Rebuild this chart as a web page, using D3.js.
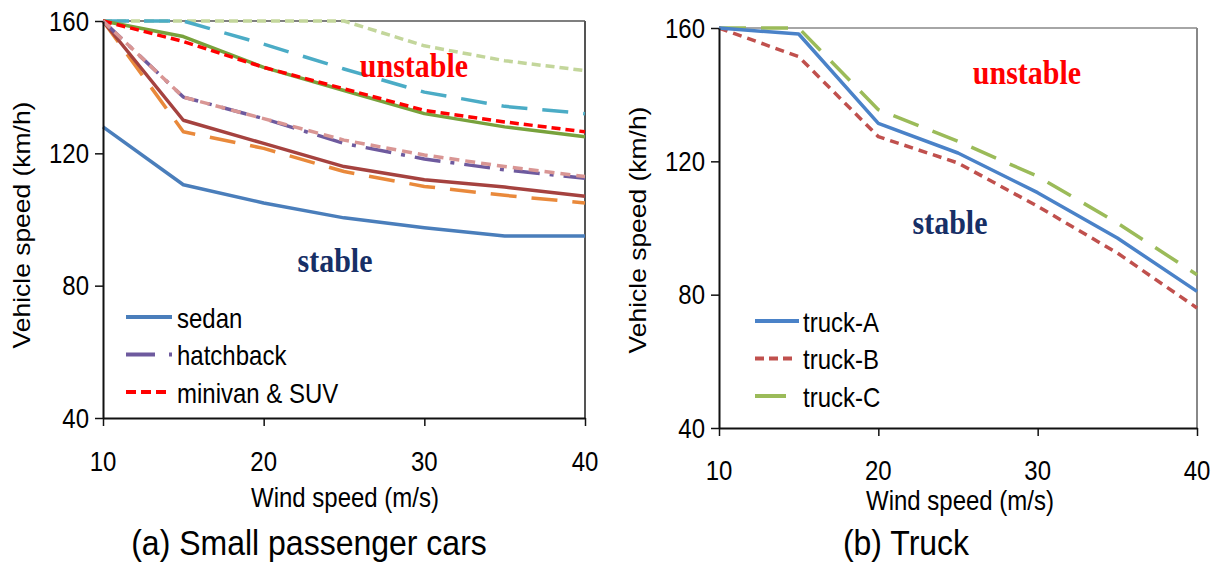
<!DOCTYPE html>
<html><head><meta charset="utf-8">
<script src="https://cdn.jsdelivr.net/npm/d3@7"></script>
<style>body{margin:0;background:#fff}svg{display:block}</style>
</head><body>
<svg id="c" width="1221" height="565"></svg>
<script>
// ---- data ----
const windSpeed = [10, 15, 20, 25, 30, 35, 40];
const yTicks = [40, 80, 120, 160];
const xTicks = [10, 20, 30, 40];
// (a) small passenger cars
const carSedan      = [128, 110.5, 105, 100.5, 97.5, 95, 95];
const carHatchback  = [160, 137, 130.5, 123, 118.3, 115, 112.5];
const carMinivanSUV = [160, 153.8, 146, 139.5, 133, 129.5, 126.5];
const carBrown      = [160, 130, 123, 116, 112, 109.8, 107];
const carOrange     = [160, 126.5, 121.5, 114.5, 110, 107.3, 105];
const carPink       = [160, 137, 130.5, 124, 119.5, 116, 113];
const carGreen      = [160, 155.3, 146, 139, 132, 128, 125];
const carTeal       = [160, 160, 153, 145.5, 138.5, 134.2, 132];
const carLightGreen = [160, 160, 160, 160, 152.5, 148, 145];
// (b) truck
const truckA = [160, 158.2, 131.4, 122.5, 110.6, 97, 81];
const truckB = [160, 151.4, 127.4, 119.5, 106.5, 92.5, 76];
const truckC = [160, 160, 135.5, 126, 115.5, 101.5, 86];

const svg = d3.select("#c");
const SANS = "'Liberation Sans', Arial, sans-serif";
const SERIF = "'Liberation Serif', 'Times New Roman', serif";
const SY = 1.15;

function txt(g, x, y, s, opt) {
  opt = opt || {};
  const sy = opt.sy || SY;
  const t = g.append("text")
    .attr("transform", `translate(${x},${y}) scale(1,${sy})` + (opt.rot ? " rotate(-90)" : ""))
    .attr("text-anchor", opt.anchor || "middle")
    .attr("dominant-baseline", "central")
    .attr("font-family", opt.family || SANS)
    .attr("font-size", opt.size || 24)
    .attr("font-weight", opt.weight || "normal")
    .attr("fill", opt.fill || "#000")
    .text(s);
  return t;
}

function panel(cfg) {
  const g = svg.append("g");
  const x = d3.scaleLinear().domain([10, 40]).range([cfg.x0, cfg.x1]);
  const y = d3.scaleLinear().domain([40, 160]).range([cfg.y0, cfg.y1]);
  // frame top/right
  g.append("line").attr("x1", cfg.x0).attr("x2", cfg.x1).attr("y1", cfg.y1).attr("y2", cfg.y1)
    .attr("stroke", cfg.frame).attr("stroke-width", 1.5);
  g.append("line").attr("x1", cfg.x1).attr("x2", cfg.x1).attr("y1", cfg.y1).attr("y2", cfg.y0)
    .attr("stroke", cfg.frame).attr("stroke-width", 2);

  const line = d3.line().x((d, i) => x(windSpeed[i])).y(d => y(d));
  cfg.series.forEach(s => {
    g.append("path").datum(s.data).attr("d", line)
      .attr("fill", "none").attr("stroke", s.color).attr("stroke-width", s.w || 3.5)
      .attr("stroke-dasharray", s.dash || null).attr("stroke-linejoin", "round");
  });

  // axes
  const ya = g.append("g").attr("transform", `translate(${cfg.x0},0)`)
    .call(d3.axisLeft(y).tickValues(yTicks).tickSize(8).tickSizeOuter(0).tickFormat(""));
  const xa = g.append("g").attr("transform", `translate(0,${cfg.y0})`)
    .call(d3.axisBottom(x).tickValues(xTicks).tickSize(8).tickSizeOuter(0).tickFormat(""));
  [ya, xa].forEach(a => {
    a.select(".domain").attr("stroke", "#111").attr("stroke-width", 2);
    a.selectAll(".tick line").attr("stroke", "#111").attr("stroke-width", 1.5);
  });
  yTicks.forEach(v => txt(g, cfg.x0 - 14, y(v), v, { anchor: "end" }));
  xTicks.forEach(v => txt(g, x(v), cfg.xLabY, v));

  txt(g, cfg.yTitleX, cfg.yTitleY, "Vehicle speed (km/h)", { rot: true, size: 23 });
  txt(g, cfg.xTitleX, cfg.xTitleY, "Wind speed (m/s)", { size: 24 });
  txt(g, cfg.capX, 543, cfg.caption, { size: 32, sy: 1.08 });

  txt(g, cfg.unX, cfg.unY, "unstable", { family: SERIF, weight: "bold", size: 30, fill: "#FF0000" });
  txt(g, cfg.stX, cfg.stY, "stable", { family: SERIF, weight: "bold", size: 30, fill: "#172F66" });

  cfg.legend.forEach((L, i) => {
    const ly = cfg.legY + i * 37.5;
    g.append("line").attr("x1", cfg.legX).attr("x2", cfg.legX + L.len).attr("y1", ly).attr("y2", ly)
      .attr("stroke", L.color).attr("stroke-width", 4).attr("stroke-dasharray", L.dash || null);
    txt(g, cfg.legTextX, ly + 1, L.label, { anchor: "start", size: 24 });
  });
}

panel({
  x0: 103, x1: 585, y0: 418, y1: 21, frame: "#555",
  xLabY: 461, yTitleX: 22, yTitleY: 225, xTitleX: 345, xTitleY: 497,
  caption: "(a) Small passenger cars", capX: 309,
  unX: 414, unY: 65, stX: 335, stY: 260,
  series: [
    { data: carLightGreen, color: "#C3D69B", dash: "9,5" },
    { data: carTeal, color: "#4BACC6", dash: "26,15" },
    { data: carGreen, color: "#78A23C" },
    { data: carMinivanSUV, color: "#FF0000", dash: "9,5" },
    { data: carOrange, color: "#E9893B", dash: "26,15" },
    { data: carBrown, color: "#A5423F" },
    { data: carHatchback, color: "#6E5A9E", dash: "26,10,4,10" },
    { data: carPink, color: "#D99694", dash: "10,6" },
    { data: carSedan, color: "#4A7EBB" }
  ],
  legX: 126, legTextX: 177, legY: 317,
  legend: [
    { label: "sedan", color: "#4A7EBB", len: 46 },
    { label: "hatchback", color: "#6E5A9E", len: 46, dash: "29,14,3,100" },
    { label: "minivan & SUV", color: "#FF0000", len: 42, dash: "10,5" }
  ]
});

panel({
  x0: 719, x1: 1197, y0: 428, y1: 28, frame: "#888",
  xLabY: 470, yTitleX: 638, yTitleY: 230, xTitleX: 960, xTitleY: 500,
  caption: "(b) Truck", capX: 906,
  unX: 1027, unY: 72, stX: 950, stY: 222,
  series: [
    { data: truckC, color: "#9BBB59", dash: "27,15" },
    { data: truckB, color: "#C0504D", dash: "9,6" },
    { data: truckA, color: "#4A82C8" }
  ],
  legX: 755, legTextX: 803, legY: 321,
  legend: [
    { label: "truck-A", color: "#4A82C8", len: 44 },
    { label: "truck-B", color: "#C0504D", len: 42, dash: "9,5" },
    { label: "truck-C", color: "#9BBB59", len: 31 }
  ]
});
</script>
</body></html>
